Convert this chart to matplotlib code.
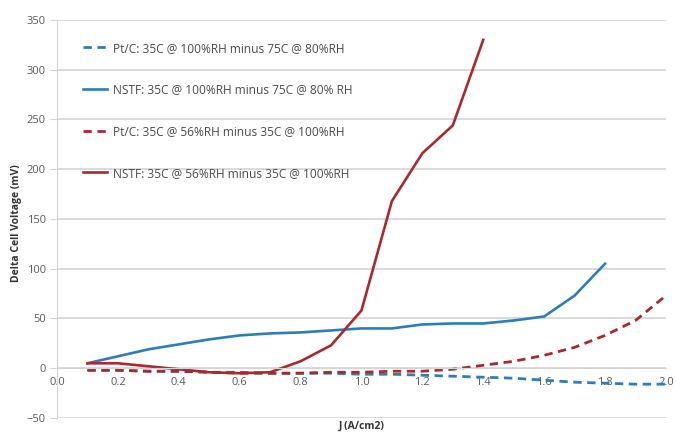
import numpy as np
import matplotlib
matplotlib.use('Agg')
import matplotlib.pyplot as plt

plt.rcParams['font.family'] = ['Open Sans', 'DejaVu Sans']

# current density (A/cm2)
j_full = [0.1, 0.2, 0.3, 0.4, 0.5, 0.6, 0.7, 0.8, 0.9, 1.0,
          1.1, 1.2, 1.3, 1.4, 1.5, 1.6, 1.7, 1.8, 1.9, 2.0]
j_nstf_temp = j_full[:18]
j_nstf_rh = j_full[:14]

# delta cell voltage (mV)
ptc_temp = [-2, -2, -3, -3, -4, -4, -5, -5, -5, -6,
            -6, -7, -8, -9, -10, -12, -14, -15, -16, -16]
nstf_temp = [5, 12, 19, 24, 29, 33, 35, 36, 38, 40,
             40, 44, 45, 45, 48, 52, 73, 105]
ptc_rh = [-2, -2, -3, -3, -4, -5, -5, -5, -4, -4,
          -3, -3, -1, 3, 7, 13, 21, 33, 48, 73]
nstf_rh = [5, 5, 2, -1, -4, -5, -4, 7, 23, 58,
           168, 216, 244, 330]

labels = ['Pt/C: 35C @ 100%RH minus 75C @ 80%RH',
          'NSTF: 35C @ 100%RH minus 75C @ 80% RH',
          'Pt/C: 35C @ 56%RH minus 35C @ 100%RH',
          'NSTF: 35C @ 56%RH minus 35C @ 100%RH']

blue = '#2C7DB8'
red = '#A82A2E'
grid_gray = '#D4D4D4'
text_gray = '#595959'

fig = plt.figure(figsize=(6.76, 4.33), dpi=100)
ax = fig.add_axes([0.0843, 0.0346, 0.9008, 0.9194])

ax.plot(j_full, ptc_temp, color=blue, lw=2.0, ls=(0, (3, 2)), label=labels[0])
ax.plot(j_nstf_temp, nstf_temp, color=blue, lw=1.9, label=labels[1])
ax.plot(j_full, ptc_rh, color=red, lw=2.0, ls=(0, (3, 2)), label=labels[2])
ax.plot(j_nstf_rh, nstf_rh, color=red, lw=1.9, label=labels[3])

ax.set_xlim(0, 2.0)
ax.set_ylim(-50, 350)
ax.set_xticks(np.arange(0, 2.01, 0.2))
ax.set_xticklabels([f'{v:.1f}' for v in np.arange(0, 2.01, 0.2)])
ax.set_yticks(range(-50, 351, 50))

# horizontal grid only, x axis sits on zero
ax.yaxis.grid(True, color=grid_gray, lw=1.2)
ax.set_axisbelow(True)
for s in ['top', 'right']:
    ax.spines[s].set_visible(False)
ax.spines['bottom'].set_position(('data', 0))
ax.spines['bottom'].set_color(grid_gray)
ax.spines['left'].set_color(grid_gray)
ax.tick_params(axis='x', length=0, pad=6, labelsize=8, labelcolor=text_gray)
ax.tick_params(axis='y', length=5, color=grid_gray, pad=3, labelsize=8,
               labelcolor=text_gray)

ax.set_xlabel('J (A/cm2)', fontsize=7.5, fontweight='bold', color='#333333')
ax.xaxis.set_label_coords(0.5, -0.008)
ax.set_ylabel('Delta Cell Voltage (mV)', fontsize=7.5, fontweight='bold',
              color='#333333')
ax.yaxis.set_label_coords(-0.058, 0.49)

leg = ax.legend(loc='upper left', bbox_to_anchor=(0.025, 0.9726), frameon=False,
                fontsize=8.6, handlelength=2.0, handletextpad=0.5,
                labelspacing=2.4, labelcolor='#4A4A4A')

fig.savefig('out.png', dpi=100)
